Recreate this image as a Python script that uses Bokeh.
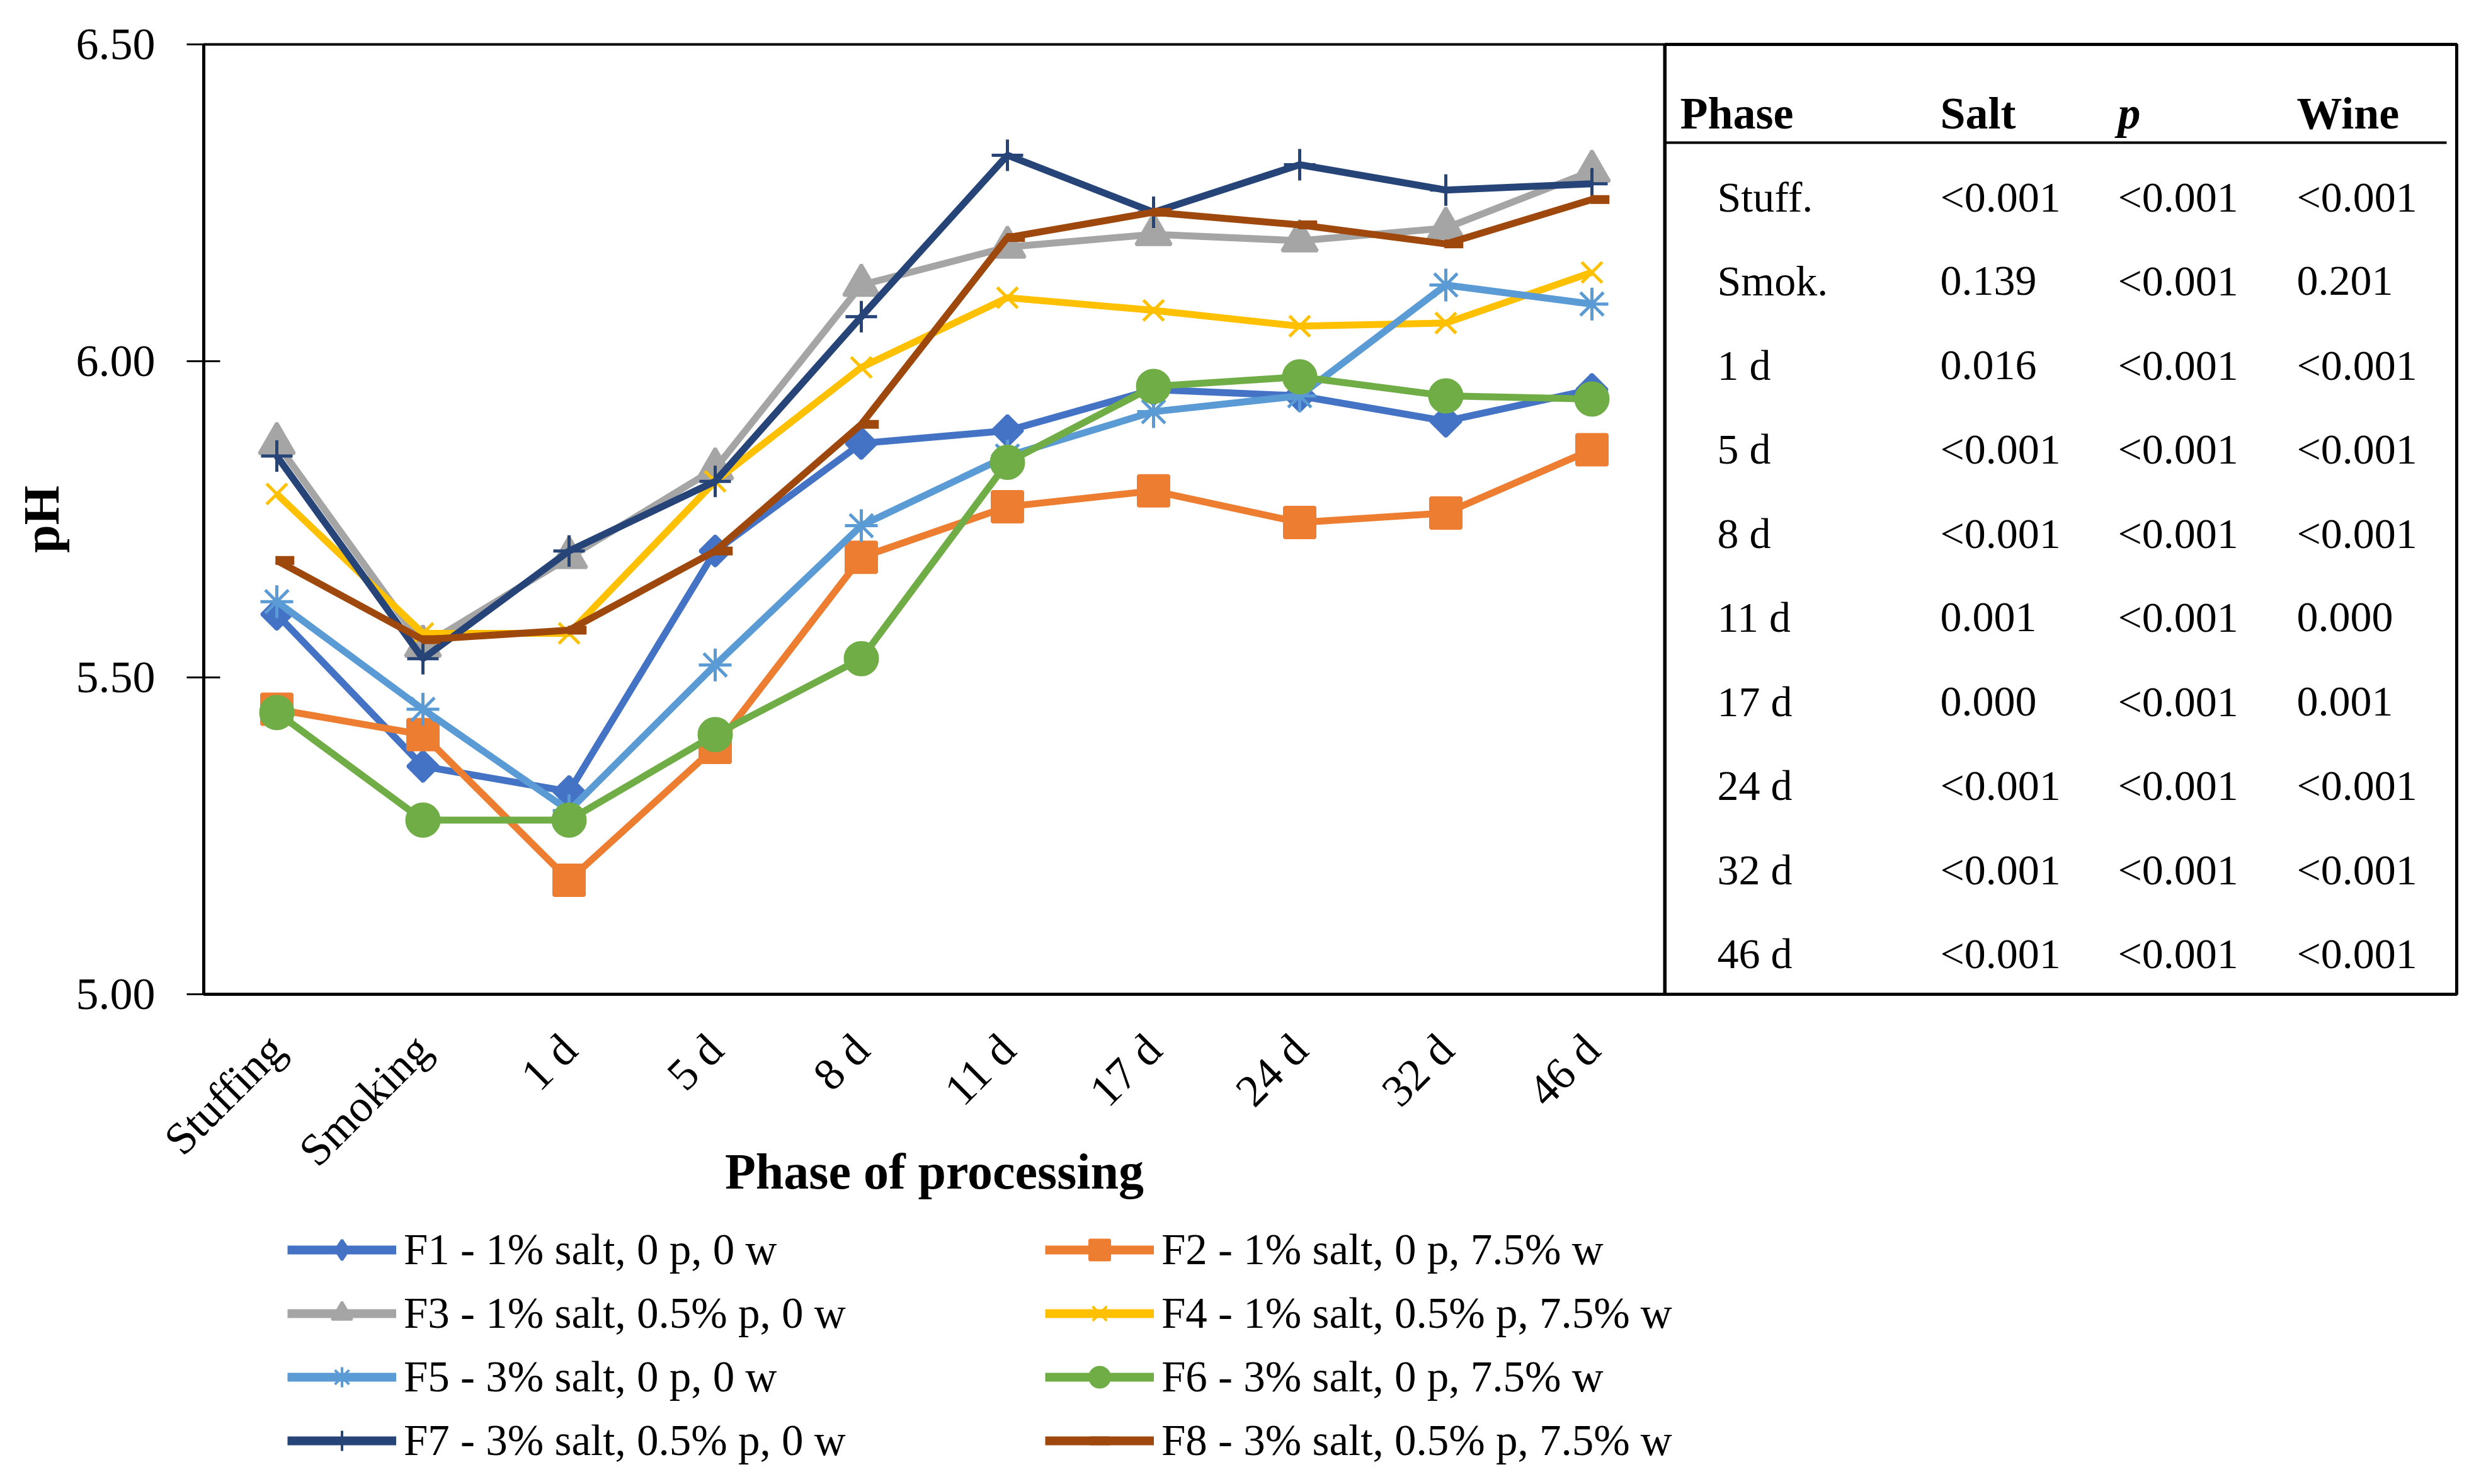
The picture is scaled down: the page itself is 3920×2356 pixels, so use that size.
import math
from bokeh.plotting import figure
from bokeh.models import (Range1d, FactorRange, Legend, LegendItem, ColumnDataSource,
                          FixedTicker, NumeralTickFormatter)
from bokeh.transform import dodge
from bokeh.layouts import row, column
from bokeh.embed import file_html
from bokeh.resources import INLINE
from bokeh.core.properties import value

# ---------------- data ----------------
phases = ["Stuffing", "Smoking", "1 d", "5 d", "8 d", "11 d", "17 d", "24 d", "32 d", "46 d"]

f1 = [5.60, 5.36, 5.32, 5.70, 5.87, 5.89, 5.955, 5.945, 5.905, 5.955]
f2 = [5.45, 5.41, 5.18, 5.39, 5.69, 5.77, 5.795, 5.745, 5.76, 5.86]
f3 = [5.87, 5.55, 5.69, 5.83, 6.12, 6.18, 6.20, 6.19, 6.21, 6.30]
f4 = [5.79, 5.57, 5.57, 5.81, 5.99, 6.10, 6.08, 6.055, 6.06, 6.14]
f5 = [5.62, 5.45, 5.29, 5.52, 5.74, 5.85, 5.92, 5.945, 6.12, 6.09]
f6 = [5.445, 5.275, 5.275, 5.41, 5.53, 5.84, 5.96, 5.975, 5.945, 5.94]
f7 = [5.85, 5.53, 5.70, 5.81, 6.07, 6.325, 6.235, 6.31, 6.27, 6.28]
f8 = [5.685, 5.56, 5.575, 5.70, 5.90, 6.195, 6.235, 6.215, 6.185, 6.255]

series_names = ["F1 - 1% salt, 0 p, 0 w", "F2 - 1% salt, 0 p, 7.5% w",
                "F3 - 1% salt, 0.5% p, 0 w", "F4 - 1% salt, 0.5% p, 7.5% w",
                "F5 - 3% salt, 0 p, 0 w", "F6 - 3% salt, 0 p, 7.5% w",
                "F7 - 3% salt, 0.5% p, 0 w", "F8 - 3% salt, 0.5% p, 7.5% w"]
series_values = [f1, f2, f3, f4, f5, f6, f7, f8]

y_ticks = [5.00, 5.50, 6.00, 6.50]

table_header = ["Phase", "Salt", "p", "Wine"]
table_phase = ["Stuff.", "Smok.", "1 d", "5 d", "8 d", "11 d", "17 d", "24 d", "32 d", "46 d"]
table_salt = ["<0.001", "0.139", "0.016", "<0.001", "<0.001", "0.001", "0.000", "<0.001", "<0.001", "<0.001"]
table_pepper = ["<0.001"] * 10
table_wine = ["<0.001", "0.201", "<0.001", "<0.001", "<0.001", "0.000", "0.001", "<0.001", "<0.001", "<0.001"]

# ---------------- styles ----------------
colors = ["#4472C4", "#ED7D31", "#A5A5A5", "#FFC000", "#5B9BD5", "#70AD47", "#264478", "#9E480E"]
markers = ["square", "square", "triangle", "x", "asterisk", "circle", "cross", "dash"]
angles = [math.pi / 4, 0, 0, 0, 0, 0, 0, 0]
msizes = [34, 48, 56, 46, 52, 51, 50, 30]
mlw = [5, 5, 5, 5, 5, 5, 5, 14]
mshift = [0, 0, 0, 0, 0, 0, 0, 0.055]
leg_markers = ["diamond", "square", "triangle", "x", "asterisk", "circle", "cross", "dash"]
leg_msizes = [44, 36, 44, 38, 40, 38, 42, 30]
leg_mlw = [4, 4, 4, 4, 4, 4, 4, 14]
FONT = "Liberation Serif"
FS = "72px"
FS_AX = "80px"
FS_LEG = "69px"
FS_TAB = "68px"

FRAME_W, FRAME_H = 2320, 1508
TOP, BOTTOM = 70, 340
PAGE_H = 2356

p = figure(frame_width=FRAME_W, frame_height=FRAME_H,
           x_range=FactorRange(*phases, range_padding=0),
           y_range=Range1d(5.0, 6.5),
           output_backend="svg", toolbar_location=None,
           min_border_left=323, min_border_right=0,
           min_border_top=TOP, min_border_bottom=BOTTOM)
p.background_fill_color = "white"
p.border_fill_color = "white"
p.outline_line_color = "black"
p.outline_line_width = 4
p.xgrid.visible = False
p.ygrid.visible = False

for name, vals, col, mk, ang, ms, lw, sh in zip(series_names, series_values, colors, markers,
                                                 angles, msizes, mlw, mshift):
    src = ColumnDataSource(dict(x=phases, y=vals))
    p.line("x", "y", source=src, line_color=col, line_width=11)
    p.scatter(dodge("x", sh, range=p.x_range), "y", source=src, marker=mk, size=ms,
              angle=ang, fill_color=col, line_color=col, line_width=lw)

# y axis
ya = p.yaxis[0]
ya.ticker = FixedTicker(ticks=y_ticks)
ya.formatter = NumeralTickFormatter(format="0.00")
ya.axis_line_width = 5
ya.axis_line_color = "black"
ya.major_tick_in = 26
ya.major_tick_out = 27
ya.major_tick_line_width = 3
ya.minor_tick_line_color = None
ya.major_label_standoff = 50
ya.major_label_text_font = FONT
ya.major_label_text_font_size = FS
ya.major_label_text_color = "black"
ya.axis_label = "pH"
ya.axis_label_text_font = FONT
ya.axis_label_text_font_size = FS_AX
ya.axis_label_text_font_style = "bold"
ya.axis_label_text_color = "black"
ya.axis_label_standoff = 8

# x axis
xa = p.xaxis[0]
xa.axis_line_width = 5
xa.axis_line_color = "black"
xa.major_tick_line_color = None
xa.minor_tick_line_color = None
xa.major_label_orientation = math.pi / 4
xa.major_label_standoff = 70
xa.major_label_text_font = FONT
xa.major_label_text_font_size = FS
xa.major_label_text_color = "black"
xa.axis_label = "Phase of processing"
xa.axis_label_text_font = FONT
xa.axis_label_text_font_size = FS_AX
xa.axis_label_text_font_style = "bold"
xa.axis_label_text_color = "black"
xa.axis_label_standoff = -82

# ---------------- table ----------------
TW = 1257
t = figure(frame_width=TW, frame_height=FRAME_H,
           x_range=Range1d(0, TW), y_range=Range1d(FRAME_H, 0),
           x_axis_type=None, y_axis_type=None,
           output_backend="svg", toolbar_location=None,
           min_border_left=0, min_border_right=8,
           min_border_top=TOP, min_border_bottom=BOTTOM)
t.xgrid.visible = False
t.ygrid.visible = False
t.outline_line_color = "black"
t.outline_line_width = 5
t.border_fill_color = "white"

col_x = [24, 437, 719, 1003]
row_label_x = 83
header_y = 109
row_y0, row_dy = 242, 133.5

hdr_src = ColumnDataSource(dict(x=[col_x[0], col_x[1], col_x[3]], y=[header_y] * 3,
                                txt=[table_header[0], table_header[1], table_header[3]]))
t.text("x", "y", text="txt", source=hdr_src, text_font=value(FONT), text_font_size=FS,
       text_font_style="bold", text_baseline="middle", text_align="left", text_color="black")
t.text(x=[col_x[2]], y=[header_y], text=[table_header[2]], text_font=value(FONT),
       text_font_size=FS, text_font_style="bold italic", text_baseline="middle",
       text_align="left", text_color="black")
t.segment(x0=[0], y0=[156], x1=[TW - 16], y1=[156], line_color="black", line_width=4)

rows_y = [row_y0 + i * row_dy for i in range(len(table_phase))]
for xs, vals in [(row_label_x, table_phase), (col_x[1], table_salt),
                 (col_x[2], table_pepper), (col_x[3], table_wine)]:
    src = ColumnDataSource(dict(x=[xs] * len(vals), y=rows_y, txt=vals))
    t.text("x", "y", text="txt", source=src, text_font=value(FONT), text_font_size=FS_TAB,
           text_baseline="middle", text_align="left", text_color="black")

# ---------------- legend (own strip below the chart) ----------------
ROW_H = TOP + FRAME_H + BOTTOM
LEG_TOP = 26
LEG_LEFT = 456
lf = figure(frame_width=3380, frame_height=PAGE_H - ROW_H - LEG_TOP - 2,
            x_range=Range1d(0, 1), y_range=Range1d(0, 1),
            x_axis_type=None, y_axis_type=None,
            output_backend="svg", toolbar_location=None,
            min_border_left=LEG_LEFT, min_border_right=0,
            min_border_top=LEG_TOP, min_border_bottom=0)
lf.outline_line_color = None
lf.xgrid.visible = False
lf.ygrid.visible = False

items = []
for name, col, mk, ms, lw in zip(series_names, colors, leg_markers, leg_msizes, leg_mlw):
    # one point far outside the visible range, so only the legend swatch shows
    lr = lf.line(x=[-10, -9], y=[-10, -10], line_color=col, line_width=14)
    mr = lf.scatter(x=[-10], y=[-10], marker=mk, size=ms, fill_color=col,
                    line_color=col, line_width=lw)
    items.append(LegendItem(label=name, renderers=[lr, mr]))

legend = Legend(items=items, location="top_left", orientation="horizontal", ncols=2,
                glyph_width=173, glyph_height=80, label_height=80, label_width=997,
                label_standoff=12, spacing=21, padding=0, margin=0,
                border_line_color=None, background_fill_alpha=0,
                label_text_font=FONT, label_text_font_size=FS_LEG, label_text_color="black")
lf.add_layout(legend, "center")

layout = column(row(p, t, spacing=0), lf, spacing=0)
open("out.html", "w").write(file_html(layout, INLINE))
